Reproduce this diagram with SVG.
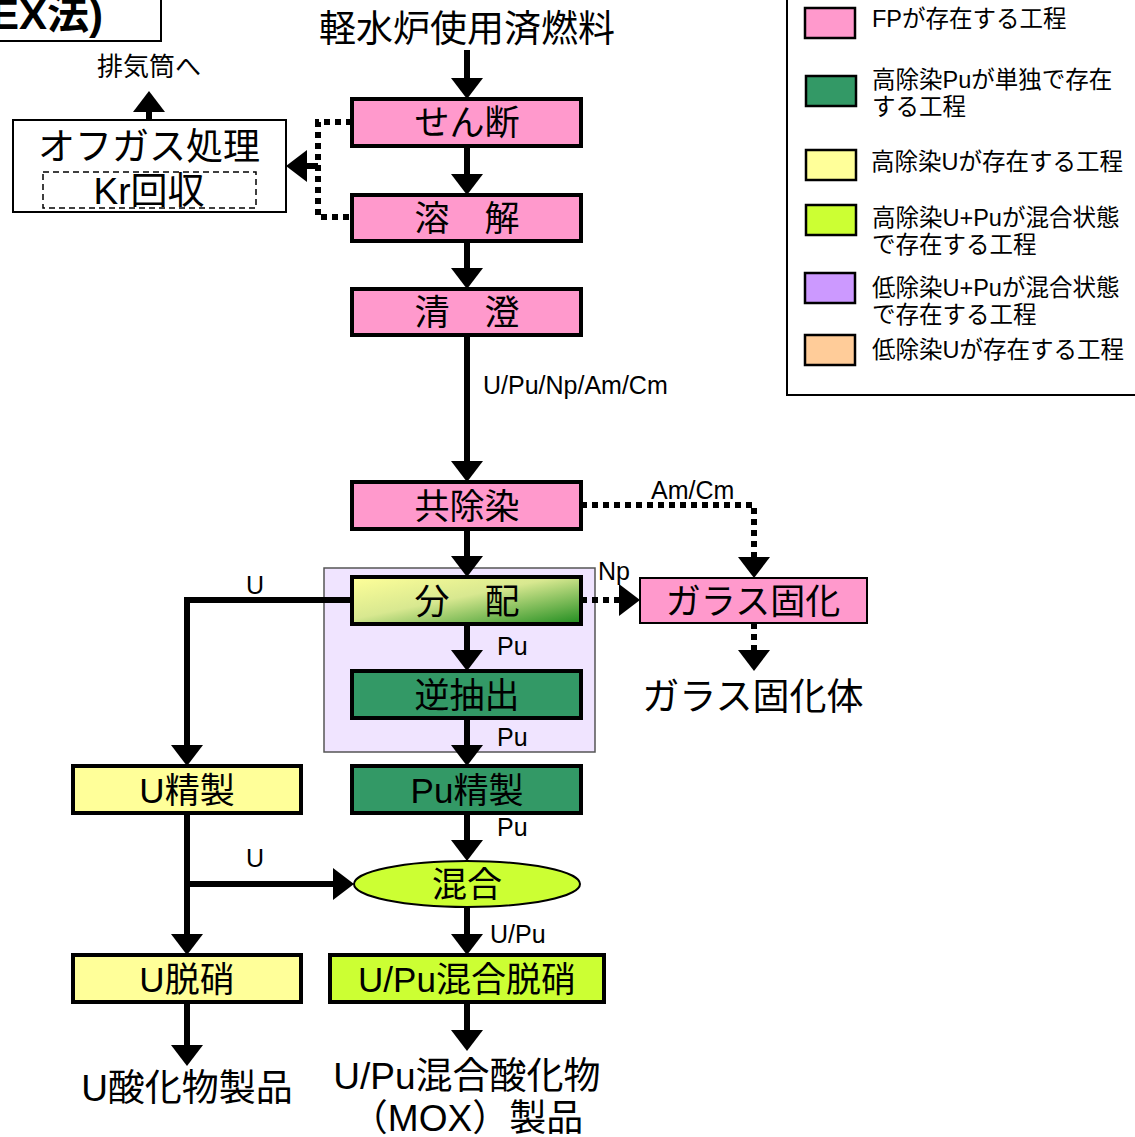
<svg xmlns="http://www.w3.org/2000/svg" width="1135" height="1137" viewBox="0 0 1135 1137">
<defs>
<style>
text{font-family:"Liberation Sans","Noto Sans CJK JP",sans-serif;fill:#000}
.box{stroke:#000;stroke-width:4}
.pink{fill:#FF99CC}
.dg{fill:#339966}
.yl{fill:#FFFF99}
.yg{fill:#CCFF33}
.bt{font-size:35px;text-anchor:middle}
.lb{font-size:25px}
.big{font-size:37px;text-anchor:middle}
.solid{stroke:#000;stroke-width:6;fill:none}
.dot{stroke:#000;stroke-width:6;fill:none;stroke-dasharray:6 5}
.lg{font-size:23.5px}
.sw{stroke:#000;stroke-width:2.5}
</style>
<marker id="ah" markerUnits="userSpaceOnUse" markerWidth="22" markerHeight="34" viewBox="0 -17 22 34" refX="1" refY="0" orient="auto"><path d="M0,-16 L21,0 L0,16 z" fill="#000"/></marker>
<linearGradient id="gr" x1="0" y1="0" x2="1" y2="1">
<stop offset="0" stop-color="#FFFF99"/>
<stop offset="0.45" stop-color="#D8E890"/>
<stop offset="1" stop-color="#1E8C1E"/>
</linearGradient>
</defs>

<g id="title">
<rect x="-2" y="-2" width="163" height="43" fill="#fff" stroke="#000" stroke-width="2"/>
<text x="-9" y="29" style="font-size:42px;font-weight:bold">EX法)</text>
</g>

<g id="group-bg">
<rect x="324" y="568" width="271" height="184" fill="#F0E4FF" stroke="#555" stroke-width="1.5"/>
</g>

<g id="connectors">
<line class="solid" x1="467" y1="50" x2="467" y2="79" marker-end="url(#ah)"/>
<line class="solid" x1="467" y1="146" x2="467" y2="175" marker-end="url(#ah)"/>
<line class="solid" x1="467" y1="241" x2="467" y2="269" marker-end="url(#ah)"/>
<line class="solid" x1="467" y1="335" x2="467" y2="462" marker-end="url(#ah)"/>
<line class="solid" x1="467" y1="529" x2="467" y2="557" marker-end="url(#ah)"/>
<line class="solid" x1="467" y1="624" x2="467" y2="651" marker-end="url(#ah)"/>
<line class="solid" x1="467" y1="718" x2="467" y2="746" marker-end="url(#ah)"/>
<line class="solid" x1="467" y1="813" x2="467" y2="841" marker-end="url(#ah)"/>
<line class="solid" x1="467" y1="907" x2="467" y2="935" marker-end="url(#ah)"/>
<line class="solid" x1="467" y1="1002" x2="467" y2="1031" marker-end="url(#ah)"/>
<polyline class="solid" points="352,600 187,600 187,746" marker-end="url(#ah)"/>
<line class="solid" x1="187" y1="813" x2="187" y2="935" marker-end="url(#ah)"/>
<line class="solid" x1="187" y1="884" x2="334" y2="884" marker-end="url(#ah)"/>
<line class="solid" x1="187" y1="1002" x2="187" y2="1046" marker-end="url(#ah)"/>
<polyline class="dot" points="581,505 754,505 754,558" marker-end="url(#ah)"/>
<line class="dot" x1="581" y1="600" x2="620" y2="600" marker-end="url(#ah)"/>
<line class="dot" x1="754" y1="623" x2="754" y2="651" marker-end="url(#ah)"/>
<polyline class="dot" points="352,122 318,122 318,217 352,217"/>
<line class="solid" x1="318" y1="166" x2="306" y2="166" marker-end="url(#ah)"/>
<line class="solid" x1="149" y1="120" x2="149" y2="111" marker-end="url(#ah)"/>
<text class="lb" x="483" y="394">U/Pu/Np/Am/Cm</text>
<text class="lb" x="651" y="499">Am/Cm</text>
<text class="lb" x="598" y="580">Np</text>
<text class="lb" x="497" y="655">Pu</text>
<text class="lb" x="497" y="746">Pu</text>
<text class="lb" x="497" y="836">Pu</text>
<text class="lb" x="490" y="943">U/Pu</text>
<text class="lb" x="246" y="594">U</text>
<text class="lb" x="246" y="867">U</text>
</g>

<g id="n-fuel"><text class="big" x="467" y="42">軽水炉使用済燃料</text></g>
<g id="n-shear"><rect class="box pink" x="352" y="99" width="229" height="47"/><text class="bt" x="467" y="135">せん断</text></g>
<g id="n-dissolve"><rect class="box pink" x="352" y="195" width="229" height="46"/><text class="bt" x="467" y="231">溶　解</text></g>
<g id="n-clarify"><rect class="box pink" x="352" y="289" width="229" height="46"/><text class="bt" x="467" y="325">清　澄</text></g>
<g id="n-codecon"><rect class="box pink" x="352" y="482" width="229" height="47"/><text class="bt" x="467" y="519">共除染</text></g>
<g id="n-partition"><rect class="box" fill="url(#gr)" x="352" y="577" width="229" height="47"/><text class="bt" x="467" y="614">分　配</text></g>
<g id="n-strip"><rect class="box dg" x="352" y="671" width="229" height="47"/><text class="bt" x="467" y="708">逆抽出</text></g>
<g id="n-pupur"><rect class="box dg" x="352" y="766" width="229" height="47"/><text class="bt" x="467" y="803">Pu精製</text></g>
<g id="n-mix"><ellipse cx="467" cy="884" rx="113" ry="23" fill="#CCFF33" stroke="#000" stroke-width="2"/><text class="bt" x="467" y="897">混合</text></g>
<g id="n-mixden"><rect class="box yg" x="330" y="955" width="274" height="47"/><text class="bt" x="467" y="992">U/Pu混合脱硝</text></g>
<g id="n-mox"><text class="big" x="467" y="1089">U/Pu混合酸化物</text><text class="big" x="467" y="1131">（MOX）製品</text></g>
<g id="n-upur"><rect class="box yl" x="73" y="766" width="228" height="47"/><text class="bt" x="187" y="803">U精製</text></g>
<g id="n-uden"><rect class="box yl" x="73" y="955" width="228" height="47"/><text class="bt" x="187" y="992">U脱硝</text></g>
<g id="n-uox"><text class="big" x="187" y="1101">U酸化物製品</text></g>
<g id="n-vitr"><rect class="pink" x="640" y="578" width="227" height="45" stroke="#000" stroke-width="2"/><text class="bt" x="753" y="614">ガラス固化</text></g>
<g id="n-glass"><text class="big" x="753" y="710">ガラス固化体</text></g>
<g id="n-offgas">
<rect x="13" y="120" width="273" height="92" fill="#fff" stroke="#000" stroke-width="2"/>
<text class="big" x="149" y="160">オフガス処理</text>
<rect x="43" y="172" width="213" height="36" fill="none" stroke="#000" stroke-width="1.5" stroke-dasharray="6 4"/>
<text class="big" x="149" y="204">Kr回収</text>
</g>
<g id="n-stack"><text x="149" y="76" text-anchor="middle" style="font-size:26px">排気筒へ</text></g>

<g id="legend">
<rect x="787" y="-5" width="360" height="400" fill="#fff" stroke="#000" stroke-width="2"/>
<rect class="sw pink" x="805" y="8" width="50" height="30"/>
<text class="lg" x="872" y="27">FPが存在する工程</text>
<rect class="sw dg" x="806" y="76" width="50" height="30"/>
<text class="lg" x="872" y="88">高除染Puが単独で存在</text>
<text class="lg" x="872" y="115">する工程</text>
<rect class="sw yl" x="806" y="150" width="50" height="30"/>
<text class="lg" x="871" y="170">高除染Uが存在する工程</text>
<rect class="sw yg" x="806" y="205" width="50" height="30"/>
<text class="lg" x="872" y="226">高除染U+Puが混合状態</text>
<text class="lg" x="872" y="253">で存在する工程</text>
<rect class="sw" fill="#CC99FF" x="805" y="273" width="50" height="30"/>
<text class="lg" x="872" y="296">低除染U+Puが混合状態</text>
<text class="lg" x="872" y="323">で存在する工程</text>
<rect class="sw" fill="#FFCC99" x="805" y="335" width="50" height="30"/>
<text class="lg" x="872" y="358">低除染Uが存在する工程</text>
</g>
</svg>
